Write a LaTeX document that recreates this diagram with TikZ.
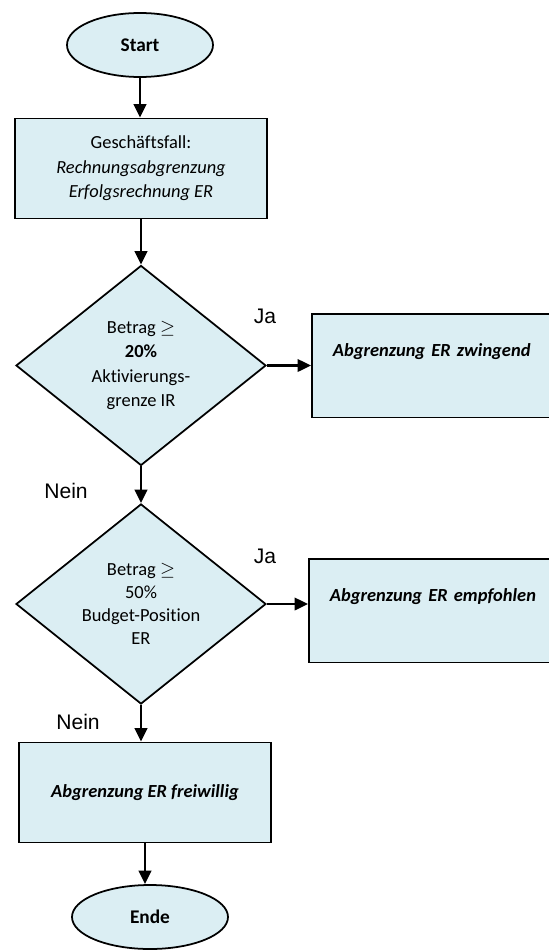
\documentclass[tikz,border=0pt]{standalone}
\usepackage{fontspec}
\setmainfont{Carlito}[Ligatures=NoCommon]
\newfontfamily\arialfont{Liberation Sans}
\usetikzlibrary{shapes.geometric,arrows.meta}
\definecolor{boxblue}{HTML}{DBEEF3}

\begin{document}
\begin{tikzpicture}[
    font=\fontsize{10.5}{14}\selectfont,
    >={Triangle[length=0.27cm,width=0.25cm]},
    term/.style={ellipse,draw,fill=boxblue,line width=1pt,minimum width=2.92cm,minimum height=1.28cm,font=\fontsize{11}{14}\selectfont\bfseries},
    stepbox/.style={rectangle,draw,fill=boxblue,line width=1pt,minimum width=5.04cm,minimum height=2cm,align=center},
    sidebox/.style={rectangle,draw,fill=boxblue,line width=1pt,anchor=north west,minimum width=6cm,minimum height=2.07cm,text width=5.16cm,align=left,inner xsep=0.42cm,font=\fontsize{10.5}{14}\selectfont\bfseries\itshape},
    decision/.style={diamond,draw,fill=boxblue,line width=1pt,minimum width=5cm,minimum height=4cm,inner sep=0pt,aspect=1.25,align=center},
    answer/.style={font=\arialfont\fontsize{12}{14}\selectfont},
    flow/.style={draw,->,line width=1.4pt}]
  \path[use as bounding box] (0,0) rectangle (10.96,-19);
  \node[term] at (2.8,-0.9) (start) {Start};
  \node[stepbox] at (2.82,-3.37) (gf) {Geschäftsfall:\\\textit{Rechnungsabgrenzung}\\\textit{Erfolgsrechnung ER}};
  \node[decision] at (2.82,-7.31) (dec1) {Betrag $\geq$\\\textbf{20\%}\\Aktivierungs-\\grenze IR};
  \node[answer] at (5.3,-6.32) (ja1) {Ja};
  \node[sidebox] at (6.22,-6.26) (zw) {Abgrenzung ER zwingend\\\strut};
  \node[answer] at (1.32,-9.82) (nein1) {Nein};
  \node[decision,font=\fontsize{10.5}{13}\selectfont] at (2.82,-12.08) (dec2) {Betrag $\geq$\\50\%\\Budget-Position\\ER};
  \node[answer] at (5.3,-11.12) (ja2) {Ja};
  \node[sidebox] at (6.16,-11.16) (em) {Abgrenzung ER empfohlen\\\strut};
  \node[answer] at (1.56,-14.44) (nein2) {Nein};
  \node[stepbox,font=\fontsize{10.5}{14}\selectfont\bfseries\itshape] at (2.9,-15.85) (fw) {Abgrenzung ER freiwillig};
  \node[term,minimum width=3.12cm] at (3.0,-18.34) (ende) {Ende};
  \path[flow] (start) -- (start |- gf.north);
  \path[flow] (gf) -- (gf |- dec1.north);
  \path[flow] (dec1) -- (dec1 -| zw.west);
  \path[flow] (dec1) -- (dec1 |- dec2.north);
  \path[flow] (dec2) -- (dec2 -| em.west);
  \path[flow] (dec2) -- (dec2 |- fw.north);
  \path[flow] (fw) -- (fw |- ende.north);
\end{tikzpicture}
\end{document}
